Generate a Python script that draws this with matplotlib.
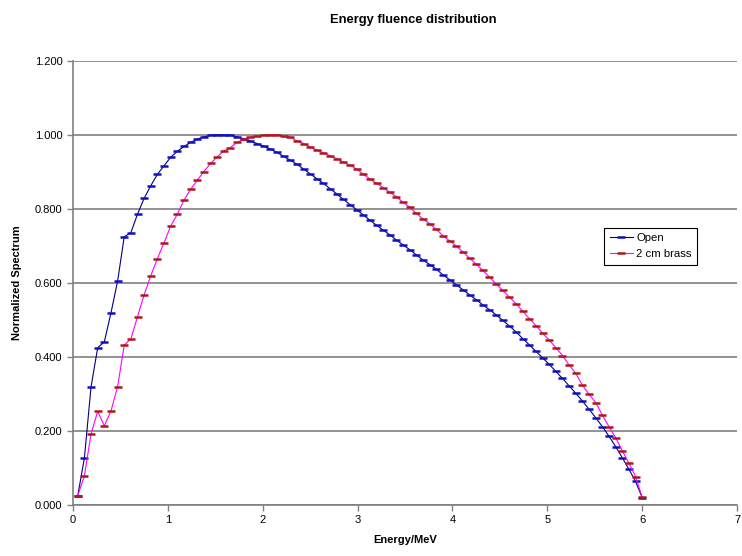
import matplotlib.pyplot as plt

plt.rcParams['font.family'] = ['Liberation Sans', 'DejaVu Sans']

# energy grid (MeV), one bin every 0.07 MeV
energy = [0.05, 0.12, 0.19, 0.26, 0.33, 0.40, 0.47, 0.54, 0.61, 0.68,
          0.75, 0.82, 0.89, 0.96, 1.03, 1.10, 1.17, 1.24, 1.31, 1.38,
          1.45, 1.52, 1.59, 1.66, 1.73, 1.80, 1.87, 1.94, 2.01, 2.08,
          2.15, 2.22, 2.29, 2.36, 2.43, 2.50, 2.57, 2.64, 2.71, 2.78,
          2.85, 2.92, 2.99, 3.06, 3.13, 3.20, 3.27, 3.34, 3.41, 3.48,
          3.55, 3.62, 3.69, 3.76, 3.83, 3.90, 3.97, 4.04, 4.11, 4.18,
          4.25, 4.32, 4.39, 4.46, 4.53, 4.60, 4.67, 4.74, 4.81, 4.88,
          4.95, 5.02, 5.09, 5.16, 5.23, 5.30, 5.37, 5.44, 5.51, 5.58,
          5.65, 5.72, 5.79, 5.86, 5.93, 6.00]

open_field = [0.025, 0.127, 0.319, 0.425, 0.441, 0.519, 0.605, 0.725, 0.736, 0.786,
              0.829, 0.863, 0.894, 0.917, 0.940, 0.956, 0.969, 0.980, 0.989, 0.995,
              0.999, 1.000, 1.000, 0.999, 0.995, 0.990, 0.984, 0.977, 0.970, 0.962,
              0.953, 0.942, 0.932, 0.921, 0.908, 0.895, 0.882, 0.869, 0.855, 0.841,
              0.826, 0.812, 0.798, 0.784, 0.770, 0.756, 0.743, 0.730, 0.716, 0.703,
              0.690, 0.676, 0.662, 0.650, 0.637, 0.622, 0.609, 0.595, 0.582, 0.568,
              0.555, 0.541, 0.528, 0.514, 0.499, 0.484, 0.468, 0.450, 0.433, 0.415,
              0.398, 0.380, 0.361, 0.342, 0.322, 0.302, 0.281, 0.259, 0.236, 0.212,
              0.186, 0.158, 0.128, 0.097, 0.064, 0.020]

brass = [0.025, 0.079, 0.192, 0.253, 0.214, 0.254, 0.320, 0.432, 0.449, 0.509,
         0.568, 0.620, 0.666, 0.709, 0.754, 0.786, 0.824, 0.853, 0.878, 0.901,
         0.923, 0.941, 0.957, 0.966, 0.980, 0.989, 0.994, 0.997, 0.999, 1.000,
         1.000, 0.998, 0.994, 0.984, 0.977, 0.968, 0.959, 0.952, 0.944, 0.936,
         0.927, 0.918, 0.908, 0.894, 0.881, 0.869, 0.858, 0.845, 0.833, 0.818,
         0.805, 0.788, 0.773, 0.760, 0.745, 0.728, 0.714, 0.700, 0.684, 0.667,
         0.651, 0.634, 0.616, 0.598, 0.580, 0.562, 0.544, 0.524, 0.504, 0.485,
         0.464, 0.446, 0.425, 0.404, 0.378, 0.356, 0.324, 0.299, 0.277, 0.243,
         0.212, 0.182, 0.147, 0.113, 0.077, 0.021]

fig = plt.figure(figsize=(7.42, 5.56), dpi=100)
ax = fig.add_axes([0.0984, 0.0917, 0.8949, 0.7986])

ax.plot(energy, open_field, color='#000080', lw=0.8, marker='_', ms=6,
        mew=1.8, mec='#1010c0', label='Open', zorder=3)
ax.plot(energy, brass, color='#ff00ff', lw=0.8, marker='_', ms=6,
        mew=1.8, mec='#b01818', label='2 cm brass', zorder=3)

ax.set_xlim(0, 7)
ax.set_ylim(0, 1.2)
ax.set_xticks(range(8))
ax.set_yticks([0, 0.2, 0.4, 0.6, 0.8, 1.0, 1.2])
ax.set_yticklabels(['%.3f' % v for v in [0, 0.2, 0.4, 0.6, 0.8, 1.0, 1.2]])
ax.yaxis.grid(True, color='#808080', lw=1.2, zorder=0)
ax.set_axisbelow(True)
for s in ['top', 'right']:
    ax.spines[s].set_visible(False)
for s in ['left', 'bottom']:
    ax.spines[s].set_color('#808080')
    ax.spines[s].set_linewidth(1.2)
ax.tick_params(axis='both', labelsize=8, color='#808080', length=4, width=1, direction='out')

ax.set_xlabel('Energy/MeV', fontsize=8, fontweight='bold', labelpad=7)
ax.set_ylabel('Normalized Spectrum', fontsize=8, fontweight='bold', labelpad=9)
fig.suptitle('Energy fluence distribution', x=0.557, y=0.975, fontsize=9.3, fontweight='bold')

leg = ax.legend(loc='upper left', bbox_to_anchor=(0.80, 0.625), fontsize=8.2,
                frameon=True, fancybox=False, edgecolor='black', framealpha=1,
                handlelength=2, borderpad=0.5, labelspacing=0.5, handletextpad=0.3,
                borderaxespad=0)
leg.get_frame().set_linewidth(0.8)

fig.savefig('out.png', dpi=100)
